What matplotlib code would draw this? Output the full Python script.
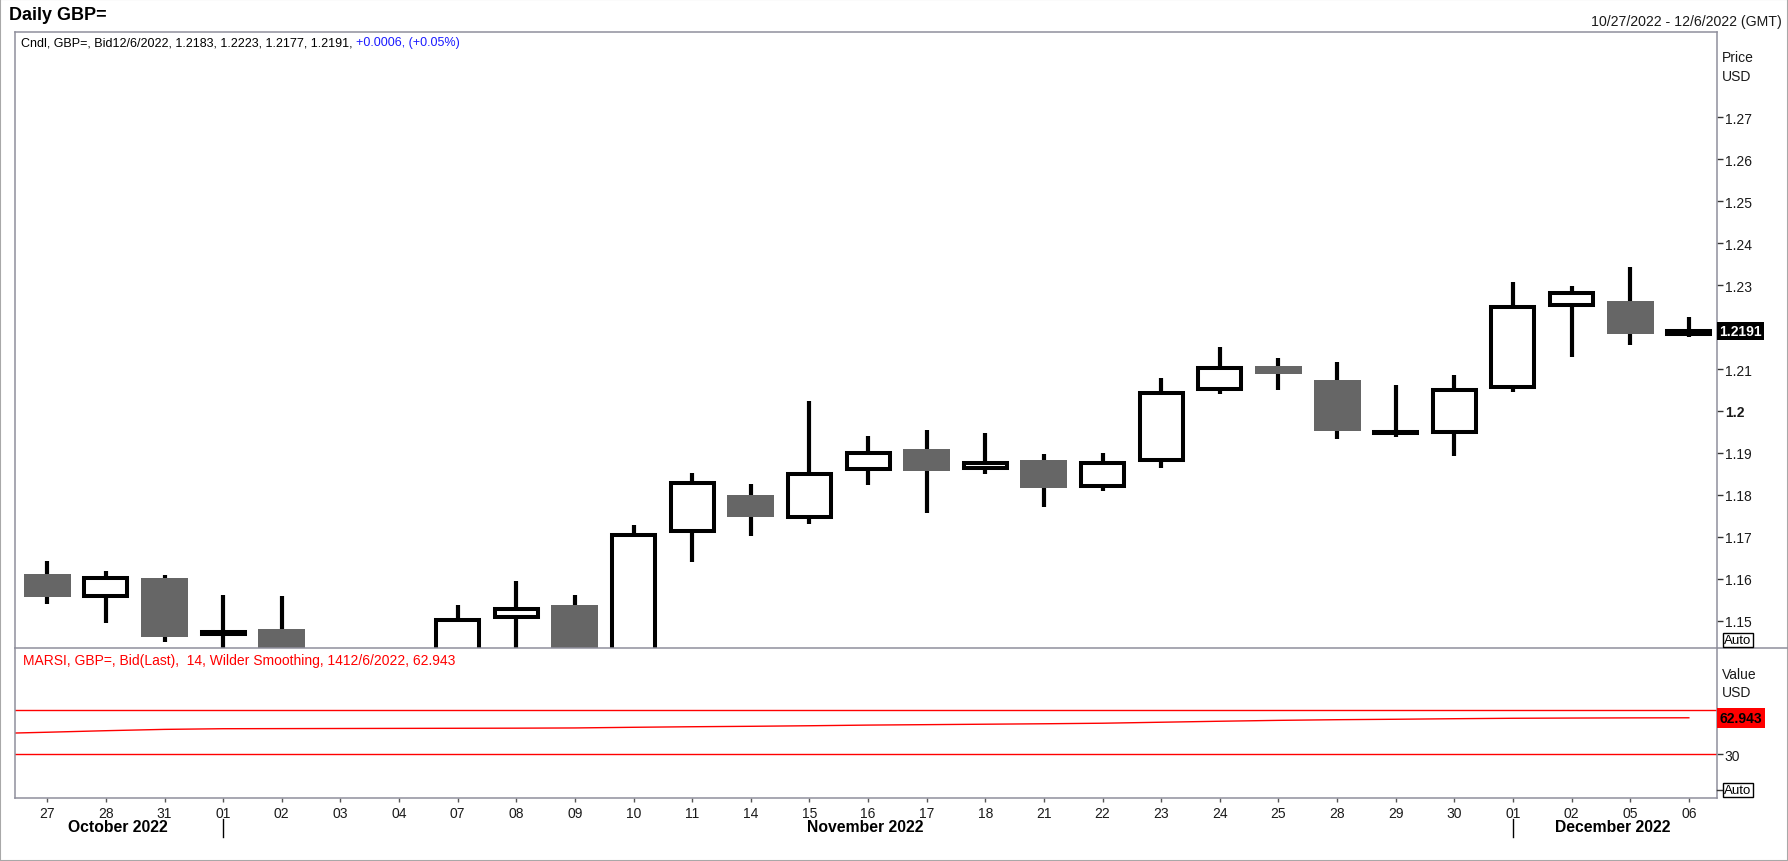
#Grafico diario GBP= con velas y RSI

import numpy as np
import matplotlib.pyplot as plt
from matplotlib.patches import Rectangle
from matplotlib.lines import Line2D
from matplotlib.transforms import blended_transform_factory

plt.rcParams['font.family'] = ['Liberation Sans', 'DejaVu Sans']

#Datos
dias = ['27', '28', '31', '01', '02', '03', '04', '07', '08', '09', '10', '11', '14', '15', '16',
        '17', '18', '21', '22', '23', '24', '25', '28', '29', '30', '01', '02', '05', '06']
apertura = [1.1612, 1.1560, 1.1602, 1.1468, 1.1481, 1.1390, 1.1165, 1.1385, 1.1510, 1.1538,
            1.1345, 1.1715, 1.1800, 1.1748, 1.1862, 1.1910, 1.1864, 1.1883, 1.1822, 1.1883,
            1.2053, 1.2107, 1.2074, 1.1948, 1.1950, 1.2056, 1.2253, 1.2262, 1.2183]
maximo = [1.1643, 1.1619, 1.1610, 1.1563, 1.1560, 1.1410, 1.1400, 1.1538, 1.1595, 1.1563,
          1.1729, 1.1852, 1.1826, 1.2024, 1.1940, 1.1955, 1.1948, 1.1898, 1.1900, 1.2079,
          1.2152, 1.2126, 1.2117, 1.2062, 1.2086, 1.2307, 1.2298, 1.2343, 1.2223]
minimo = [1.1541, 1.1496, 1.1451, 1.1420, 1.1380, 1.1150, 1.1150, 1.1370, 1.1420, 1.1330,
          1.1335, 1.1641, 1.1703, 1.1732, 1.1824, 1.1756, 1.1851, 1.1772, 1.1810, 1.1865,
          1.2041, 1.2051, 1.1934, 1.1939, 1.1894, 1.2046, 1.2129, 1.2156, 1.2177]
cierre = [1.1558, 1.1602, 1.1463, 1.1474, 1.1390, 1.1165, 1.1380, 1.1502, 1.1528, 1.1345,
          1.1705, 1.1829, 1.1748, 1.1849, 1.1899, 1.1858, 1.1875, 1.1817, 1.1875, 1.2044,
          1.2102, 1.2088, 1.1952, 1.1950, 1.2050, 1.2247, 1.2281, 1.2184, 1.2191]
# RSI, el primer valor es el dia anterior (26 oct)
rsi = [48.5, 49.8, 51.2, 52.4, 53.0, 53.1, 53.2, 53.3, 53.4, 53.5, 53.7, 54.3, 54.8, 55.2, 55.7,
       56.3, 56.7, 57.1, 57.5, 58.0, 58.9, 59.8, 60.6, 61.2, 61.6, 62.1, 62.5, 62.7, 62.85, 62.943]
precio_ticks = [1.15, 1.16, 1.17, 1.18, 1.19, 1.2, 1.21, 1.22, 1.23, 1.24, 1.25, 1.26, 1.27]
precio_labels = ['1.15', '1.16', '1.17', '1.18', '1.19', '1.2', '1.21', '', '1.23', '1.24',
                 '1.25', '1.26', '1.27']
meses = ['October 2022', 'November 2022', 'December 2022']
meses_pos = [1.2, 13.95, 26.7]
cambio_mes = [3, 25]
ultimo = 1.2191
rsi_ultimo = 62.943

W, H = 1788, 862
def fx(px):
    return px / W
def fy(py):
    return 1 - py / H

marco = '#8f8f9c'
fig = plt.figure(figsize=(W / 100, H / 100), dpi=100)
fig.patches.append(Rectangle((0, 0), 1, 1, transform=fig.transFigure, fill=False,
                             edgecolor='#a8a8a8', lw=1.5))

x = np.arange(len(dias))
xlim = (-0.55, 28.48)

#Panel de precio
ax = fig.add_axes([fx(15), fy(649), fx(1717) - fx(15), fy(33) - fy(649)])
ax.set_xlim(xlim)
ax.set_ylim(1.14357, 1.29024)
o = np.array(apertura); c = np.array(cierre)
alcista = c >= o
ax.vlines(x, minimo, maximo, color='black', lw=3.0, zorder=2)
ax.bar(x[~alcista], (o - c)[~alcista], bottom=c[~alcista], width=0.8,
       color='#666666', edgecolor='none', zorder=3)
ax.bar(x[alcista], (c - o)[alcista], bottom=o[alcista], width=0.733,
       color='white', edgecolor='black', lw=2.9, zorder=3)
ax.yaxis.tick_right()
ax.set_yticks(precio_ticks)
ax.set_yticklabels(precio_labels)
for lab in ax.get_yticklabels():
    if lab.get_text() == '1.2':
        lab.set_fontweight('bold')
ax.tick_params(axis='y', length=4, width=1, color='#333333', pad=1.5, labelsize=10,
               labelcolor='#1a1a1a')
ax.set_xticks([])
for s in ax.spines.values():
    s.set_color(marco)
    s.set_linewidth(1.1)
ax.spines['bottom'].set_visible(False)
ax.text(1.0015, ultimo, '1.2191', transform=blended_transform_factory(ax.transAxes, ax.transData),
        color='white', fontsize=10, fontweight='bold', va='center', ha='left', clip_on=False,
        zorder=5, bbox=dict(boxstyle='square,pad=0.15', facecolor='black', edgecolor='none'))

#Panel RSI
ax2 = fig.add_axes([fx(15), fy(799), fx(1717) - fx(15), fy(649) - fy(799)])
ax2.set_xlim(xlim)
ax2.set_ylim(-10, 126.4)
ax2.axhline(70, color='red', lw=1.0)
ax2.axhline(30, color='red', lw=1.0)
ax2.plot(np.arange(-1, len(dias)), rsi, color='red', lw=1.0)
ax2.yaxis.tick_right()
ax2.set_yticks([30])
ax2.tick_params(axis='y', length=4, width=1, color='#333333', pad=1.5, labelsize=10,
                labelcolor='#1a1a1a')
ax2.set_xticks(x)
ax2.set_xticklabels(dias)
ax2.tick_params(axis='x', length=3, width=1, color='#555555', pad=3, labelsize=10,
                labelcolor='#1a1a1a')
for s in ax2.spines.values():
    s.set_color(marco)
    s.set_linewidth(1.1)
ax2.spines['top'].set_visible(False)
ax2.text(1.0015, rsi_ultimo, '62.943', transform=blended_transform_factory(ax2.transAxes, ax2.transData),
         color='black', fontsize=10, fontweight='bold', va='center', ha='left', clip_on=False,
         zorder=5, bbox=dict(boxstyle='square,pad=0.2', facecolor='red', edgecolor='none'))

# separador entre paneles
fig.add_artist(Line2D([fx(15), 1], [fy(649), fy(649)], color=marco, lw=1.1))

#Textos
fig.text(fx(9), fy(16), 'Daily GBP=', fontsize=13, fontweight='bold', va='center', ha='left')
fig.text(fx(1782), fy(22), '10/27/2022 - 12/6/2022 (GMT)', fontsize=10.2, va='center', ha='right',
         color='#1a1a1a')
t = fig.text(fx(21), fy(43), 'Cndl, GBP=, Bid12/6/2022, 1.2183, 1.2223, 1.2177, 1.2191, ',
             fontsize=9.0, va='center', ha='left')
fig.canvas.draw()
bb = t.get_window_extent()
fig.text(bb.x1 / W, fy(43), '+0.0006, (+0.05%)', fontsize=9.0, va='center', ha='left', color='#1a1aff')
fig.text(fx(23), fy(661), 'MARSI, GBP=, Bid(Last),  14, Wilder Smoothing, 1412/6/2022, 62.943',
         fontsize=10, va='center', ha='left', color='red')
fig.text(fx(1722), fy(58), 'Price', fontsize=10, va='center', ha='left', color='#1a1a1a')
fig.text(fx(1722), fy(77), 'USD', fontsize=10, va='center', ha='left', color='#1a1a1a')
fig.text(fx(1722), fy(675), 'Value', fontsize=10, va='center', ha='left', color='#1a1a1a')
fig.text(fx(1722), fy(693), 'USD', fontsize=10, va='center', ha='left', color='#1a1a1a')
for yy in [641, 791]:
    fig.text(fx(1724), fy(yy), 'Auto', fontsize=9.5, va='center', ha='left', color='black',
             bbox=dict(boxstyle='square,pad=0.1', facecolor='white', edgecolor='black', lw=1))
fig.add_artist(Line2D([fx(1717), fx(1722)], [fy(791), fy(791)], color='#333333', lw=1))

tr = blended_transform_factory(ax2.transData, fig.transFigure)
for m, p in zip(meses, meses_pos):
    fig.text(p, fy(828), m, transform=tr, fontsize=11.3, fontweight='bold', ha='center', va='center')
for p in cambio_mes:
    fig.add_artist(Line2D([p, p], [fy(820), fy(838)], transform=tr, color='black', lw=1))

plt.savefig('out.png', dpi=100)
